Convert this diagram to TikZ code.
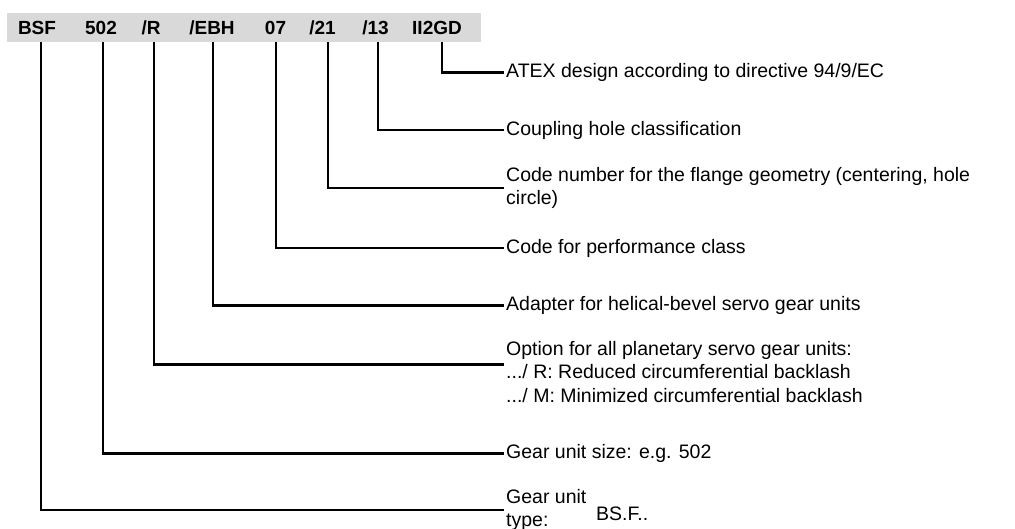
\documentclass[tikz,border=0pt]{standalone}
\usepackage{fontspec}
\setmainfont{Liberation Sans}
\begin{document}
\begin{tikzpicture}[x=1pt,y=-1pt,
  conn/.style={line width=2.6pt,line cap=butt,line join=miter},
  barbox/.style={fill=bargray,draw=none,minimum width=474pt,minimum height=29pt,inner sep=0pt},
  token/.style={font=\fontsize{19}{21}\selectfont\bfseries,text height=13.8pt,text depth=0pt,
                minimum height=29pt,inner sep=0pt},
  lbl/.style={anchor=west,inner sep=2pt,align=left,
              font=\fontsize{19.5}{23.5}\selectfont}]
\definecolor{bargray}{RGB}{217,217,217}
\useasboundingbox (0,0) rectangle (1015,529);

% code bar
\node[barbox] (bar) at (244,27.5) {};
\node[token] (t1) at (37,27.5)  {BSF};
\node[token] (t2) at (101,27.5) {502};
\node[token] (t3) at (151,27.5) {/R};
\node[token] (t4) at (212,27.5) {/EBH};
\node[token] (t5) at (275.5,27.5) {07};
\node[token] (t6) at (322.5,27.5) {/21};
\node[token] (t7) at (375.5,27.5) {/13};
\node[token] (t8) at (437,27.5) {II2GD};

% explanations
\node[lbl] (atex)  at (504,72.5)  {ATEX design according to directive 94/9/EC};
\node[lbl] (coup)  at (504,130)   {Coupling hole classification};
\node[lbl] (flng)  at (504,188)   {Code number for the flange geometry (centering, hole\\circle)};
\node[lbl] (perf)  at (504,248)   {Code for performance class};
\node[lbl] (adap)  at (504,305.5) {Adapter for helical-bevel servo gear units};
\node[lbl] (opt)   at (504,372)   {Option for all planetary servo gear units:\\.../ R: Reduced circumferential backlash\\.../ M: Minimized circumferential backlash};
\node[lbl] (size)  at (504,453.5) {Gear unit size: e.g. 502};
\node[lbl] (gtype) at (504,510)   {Gear unit\\type:};
\node[lbl] (bsf)   at (594,514)   {BS.F..};

% connectors
\draw[conn] ([xshift=5pt]t8.south)  |- (atex.west);
\draw[conn] ([xshift=2.5pt]t7.south) |- (coup.west);
\draw[conn] ([xshift=5.5pt]t6.south) |- (flng.west);
\draw[conn] ([xshift=0.5pt]t5.south) |- (perf.west);
\draw[conn] ([xshift=1pt]t4.south)  |- (adap.west);
\draw[conn] ([xshift=3pt]t3.south)  |- ([yshift=7.5pt]opt.west);
\draw[conn] ([xshift=2pt]t2.south)  |- (size.west);
\draw[conn] ([xshift=4pt]t1.south)  |- (gtype.west);
\end{tikzpicture}
\end{document}
